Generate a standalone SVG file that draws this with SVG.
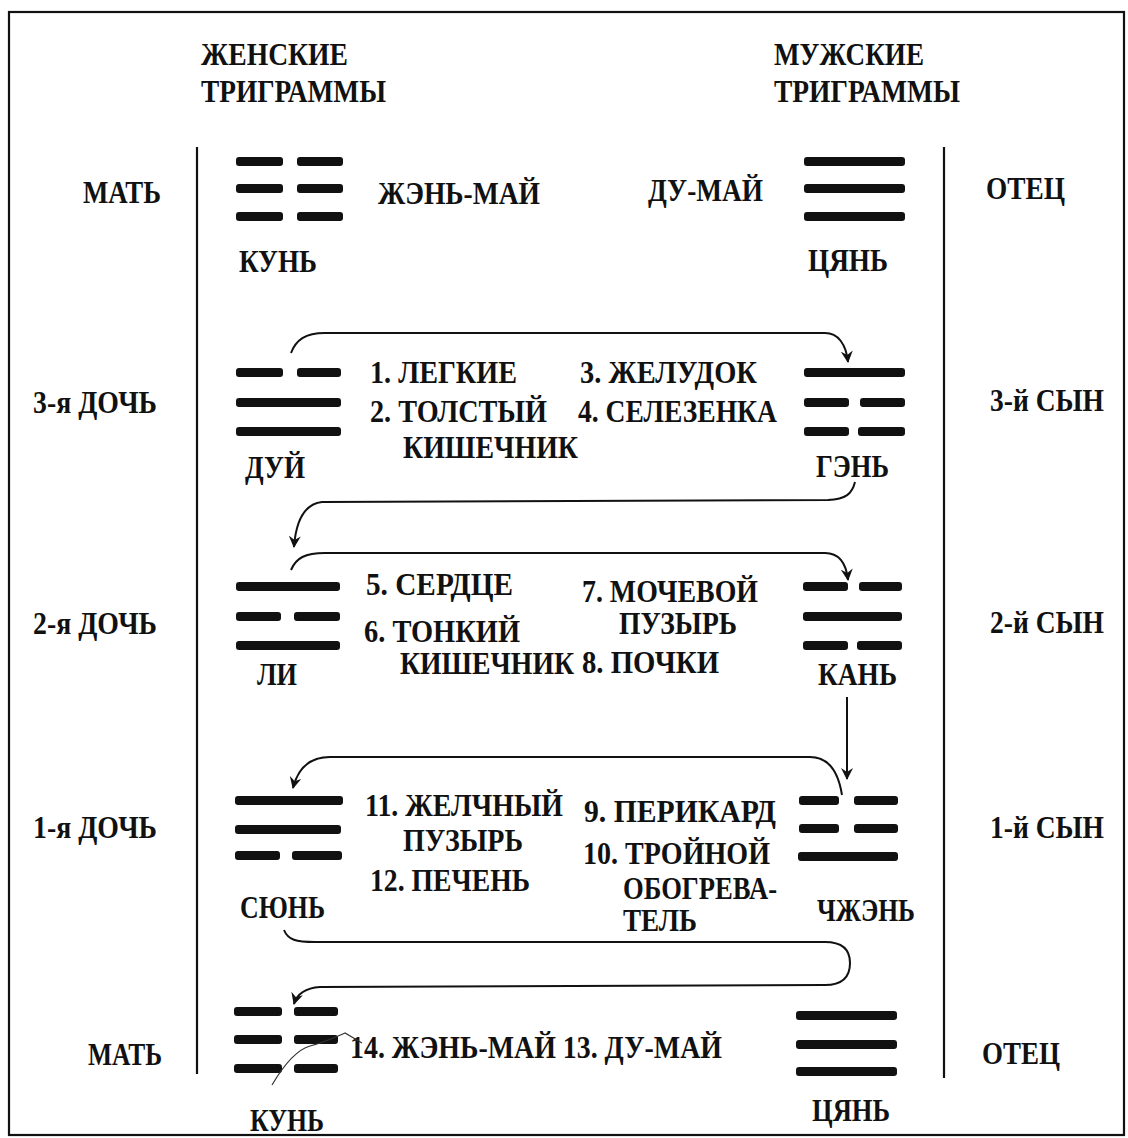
<svg xmlns="http://www.w3.org/2000/svg" width="1128" height="1138" viewBox="0 0 1128 1138">
<style>
text{font-family:"Liberation Serif","Times New Roman",serif;font-weight:bold;font-size:31px;fill:#111}
.bar{fill:#111}
.frame{fill:none;stroke:#111;stroke-width:2.2}
.con{fill:none;stroke:#111;stroke-width:2}
.thin{fill:none;stroke:#333;stroke-width:1.2}
</style>
<defs>
<marker id="ah" viewBox="0 0 12 12" refX="11" refY="6" markerWidth="12" markerHeight="12" markerUnits="userSpaceOnUse" orient="auto">
<path d="M0,0 L12,6 L0,12 L4,6 Z" fill="#111"/>
</marker>
</defs>
<rect width="1128" height="1138" fill="#fff"/>
<g id="frame">
<rect class="frame" x="9" y="12" width="1115" height="1123"/>
<line class="frame" x1="197" y1="147" x2="197" y2="1074"/>
<line class="frame" x1="944" y1="147" x2="944" y2="1078"/>
</g>
<g id="headers">
<text x="201" y="65" textLength="147" lengthAdjust="spacingAndGlyphs">ЖЕНСКИЕ</text>
<text x="201" y="102" textLength="185" lengthAdjust="spacingAndGlyphs">ТРИГРАММЫ</text>
<text x="774" y="65" textLength="150" lengthAdjust="spacingAndGlyphs">МУЖСКИЕ</text>
<text x="774" y="102" textLength="186" lengthAdjust="spacingAndGlyphs">ТРИГРАММЫ</text>
</g>
<g id="row-labels">
<text x="83" y="203" textLength="78" lengthAdjust="spacingAndGlyphs">МАТЬ</text>
<text x="986" y="199" textLength="79" lengthAdjust="spacingAndGlyphs">ОТЕЦ</text>
<text x="33" y="413" textLength="124" lengthAdjust="spacingAndGlyphs">3-я ДОЧЬ</text>
<text x="990" y="411" textLength="114" lengthAdjust="spacingAndGlyphs">3-й СЫН</text>
<text x="33" y="634" textLength="124" lengthAdjust="spacingAndGlyphs">2-я ДОЧЬ</text>
<text x="990" y="633" textLength="114" lengthAdjust="spacingAndGlyphs">2-й СЫН</text>
<text x="33" y="838" textLength="124" lengthAdjust="spacingAndGlyphs">1-я ДОЧЬ</text>
<text x="990" y="838" textLength="114" lengthAdjust="spacingAndGlyphs">1-й СЫН</text>
<text x="88" y="1065" textLength="74" lengthAdjust="spacingAndGlyphs">МАТЬ</text>
<text x="982" y="1064" textLength="78" lengthAdjust="spacingAndGlyphs">ОТЕЦ</text>
</g>
<g id="kun-top">
<rect class="bar" x="236" y="157" width="47" height="9" rx="3"/><rect class="bar" x="297" y="157" width="46" height="9" rx="3"/>
<rect class="bar" x="236" y="184" width="47" height="9" rx="3"/><rect class="bar" x="297" y="184" width="46" height="9" rx="3"/>
<rect class="bar" x="236" y="212" width="47" height="9" rx="3"/><rect class="bar" x="297" y="212" width="46" height="9" rx="3"/>
<text x="239" y="272" textLength="78" lengthAdjust="spacingAndGlyphs">КУНЬ</text>
</g>
<g id="tsyan-top">
<rect class="bar" x="804" y="157" width="101" height="9" rx="3"/>
<rect class="bar" x="804" y="184" width="101" height="9" rx="3"/>
<rect class="bar" x="804" y="212" width="101" height="9" rx="3"/>
<text x="808" y="271" textLength="80" lengthAdjust="spacingAndGlyphs">ЦЯНЬ</text>
</g>
<g id="meridians-top">
<text x="378" y="204" textLength="162" lengthAdjust="spacingAndGlyphs">ЖЭНЬ-МАЙ</text>
<text x="648" y="201" textLength="115" lengthAdjust="spacingAndGlyphs">ДУ-МАЙ</text>
</g>
<g id="dui">
<rect class="bar" x="236" y="368" width="47" height="9" rx="3"/><rect class="bar" x="297" y="368" width="44" height="9" rx="3"/>
<rect class="bar" x="236" y="398" width="105" height="9" rx="3"/>
<rect class="bar" x="236" y="427" width="105" height="9" rx="3"/>
<text x="245" y="478" textLength="60" lengthAdjust="spacingAndGlyphs">ДУЙ</text>
</g>
<g id="organs-1">
<text x="370" y="383" textLength="147" lengthAdjust="spacingAndGlyphs">1. ЛЕГКИЕ</text>
<text x="370" y="422" textLength="177" lengthAdjust="spacingAndGlyphs">2. ТОЛСТЫЙ</text>
<text x="403" y="458" textLength="175" lengthAdjust="spacingAndGlyphs">КИШЕЧНИК</text>
<text x="580" y="383" textLength="177" lengthAdjust="spacingAndGlyphs">3. ЖЕЛУДОК</text>
<text x="578" y="422" textLength="199" lengthAdjust="spacingAndGlyphs">4. СЕЛЕЗЕНКА</text>
</g>
<g id="gen">
<rect class="bar" x="804" y="368" width="101" height="9" rx="3"/>
<rect class="bar" x="804" y="398" width="45" height="9" rx="3"/><rect class="bar" x="860" y="398" width="45" height="9" rx="3"/>
<rect class="bar" x="804" y="427" width="45" height="9" rx="3"/><rect class="bar" x="858" y="427" width="47" height="9" rx="3"/>
<text x="816" y="477" textLength="73" lengthAdjust="spacingAndGlyphs">ГЭНЬ</text>
</g>
<g id="li">
<rect class="bar" x="236" y="582" width="104" height="9" rx="3"/>
<rect class="bar" x="236" y="612" width="45" height="9" rx="3"/><rect class="bar" x="294" y="612" width="46" height="9" rx="3"/>
<rect class="bar" x="236" y="641" width="104" height="9" rx="3"/>
<text x="257" y="685" textLength="40" lengthAdjust="spacingAndGlyphs">ЛИ</text>
</g>
<g id="organs-2">
<text x="366" y="595" textLength="147" lengthAdjust="spacingAndGlyphs">5. СЕРДЦЕ</text>
<text x="364" y="642" textLength="156" lengthAdjust="spacingAndGlyphs">6. ТОНКИЙ</text>
<text x="400" y="674" textLength="174" lengthAdjust="spacingAndGlyphs">КИШЕЧНИК</text>
<text x="582" y="602" textLength="176" lengthAdjust="spacingAndGlyphs">7. МОЧЕВОЙ</text>
<text x="619" y="634" textLength="118" lengthAdjust="spacingAndGlyphs">ПУЗЫРЬ</text>
<text x="582" y="673" textLength="137" lengthAdjust="spacingAndGlyphs">8. ПОЧКИ</text>
</g>
<g id="kan">
<rect class="bar" x="803" y="582" width="45" height="9" rx="3"/><rect class="bar" x="859" y="582" width="43" height="9" rx="3"/>
<rect class="bar" x="803" y="612" width="99" height="9" rx="3"/>
<rect class="bar" x="803" y="641" width="45" height="9" rx="3"/><rect class="bar" x="857" y="641" width="45" height="9" rx="3"/>
<text x="818" y="685" textLength="79" lengthAdjust="spacingAndGlyphs">КАНЬ</text>
</g>
<g id="syun">
<rect class="bar" x="235" y="796" width="108" height="9" rx="3"/>
<rect class="bar" x="235" y="825" width="106" height="9" rx="3"/>
<rect class="bar" x="235" y="851" width="45" height="9" rx="3"/><rect class="bar" x="292" y="851" width="50" height="9" rx="3"/>
<text x="240" y="918" textLength="85" lengthAdjust="spacingAndGlyphs">СЮНЬ</text>
</g>
<g id="organs-3">
<text x="365" y="816" textLength="198" lengthAdjust="spacingAndGlyphs">11. ЖЕЛЧНЫЙ</text>
<text x="403" y="851" textLength="120" lengthAdjust="spacingAndGlyphs">ПУЗЫРЬ</text>
<text x="370" y="891" textLength="160" lengthAdjust="spacingAndGlyphs">12. ПЕЧЕНЬ</text>
<text x="584" y="822" textLength="192" lengthAdjust="spacingAndGlyphs">9. ПЕРИКАРД</text>
<text x="583" y="864" textLength="187" lengthAdjust="spacingAndGlyphs">10. ТРОЙНОЙ</text>
<text x="623" y="899" textLength="154" lengthAdjust="spacingAndGlyphs">ОБОГРЕВА-</text>
<text x="623" y="931" textLength="74" lengthAdjust="spacingAndGlyphs">ТЕЛЬ</text>
</g>
<g id="chzhen">
<rect class="bar" x="799" y="796" width="40" height="9" rx="3"/><rect class="bar" x="854" y="796" width="44" height="9" rx="3"/>
<rect class="bar" x="799" y="824" width="40" height="9" rx="3"/><rect class="bar" x="854" y="824" width="44" height="9" rx="3"/>
<rect class="bar" x="798" y="852" width="100" height="9" rx="3"/>
<text x="817" y="921" textLength="98" lengthAdjust="spacingAndGlyphs">ЧЖЭНЬ</text>
</g>
<g id="kun-bottom">
<rect class="bar" x="234" y="1007" width="48" height="9" rx="3"/><rect class="bar" x="294" y="1007" width="44" height="9" rx="3"/>
<rect class="bar" x="234" y="1035" width="48" height="9" rx="3"/><rect class="bar" x="294" y="1035" width="44" height="9" rx="3"/>
<rect class="bar" x="234" y="1064" width="48" height="9" rx="3"/><rect class="bar" x="294" y="1064" width="44" height="9" rx="3"/>
<text x="250" y="1131" textLength="74" lengthAdjust="spacingAndGlyphs">КУНЬ</text>
</g>
<g id="meridians-bottom">
<text x="350" y="1058" textLength="372" lengthAdjust="spacingAndGlyphs">14. ЖЭНЬ-МАЙ 13. ДУ-МАЙ</text>
</g>
<g id="tsyan-bottom">
<rect class="bar" x="796" y="1011" width="101" height="9" rx="3"/>
<rect class="bar" x="796" y="1040" width="101" height="9" rx="3"/>
<rect class="bar" x="796" y="1067" width="101" height="9" rx="3"/>
<text x="812" y="1121" textLength="78" lengthAdjust="spacingAndGlyphs">ЦЯНЬ</text>
</g>
<g id="connectors">
<path class="con" marker-end="url(#ah)" d="M291,353 C296,340 305,333 325,333 L825,333 C838,333 846,344 848,362"/>
<path class="con" marker-end="url(#ah)" d="M855,482 C852,494 846,499 828,500 L322,502 C305,504 296,520 294,547"/>
<path class="con" marker-end="url(#ah)" d="M291,570 C296,558 305,553 325,553 L825,553 C838,553 846,562 848,580"/>
<path class="con" marker-end="url(#ah)" d="M847,697 L847,779"/>
<path class="con" marker-end="url(#ah)" d="M842,795 C838,770 828,757 810,757 L330,757 C310,757 298,768 293,788"/>
<path class="con" marker-end="url(#ah)" d="M284,930 C288,940 296,942 315,942 L825,942 C845,942 850,952 850,963 C850,976 843,985 825,985 L320,987 C305,988 297,994 294,1004"/>
<path class="thin" d="M272,1085 C282,1068 296,1050 310,1046 C325,1042 338,1036 345,1033 L362,1043"/>
</g>
</svg>
